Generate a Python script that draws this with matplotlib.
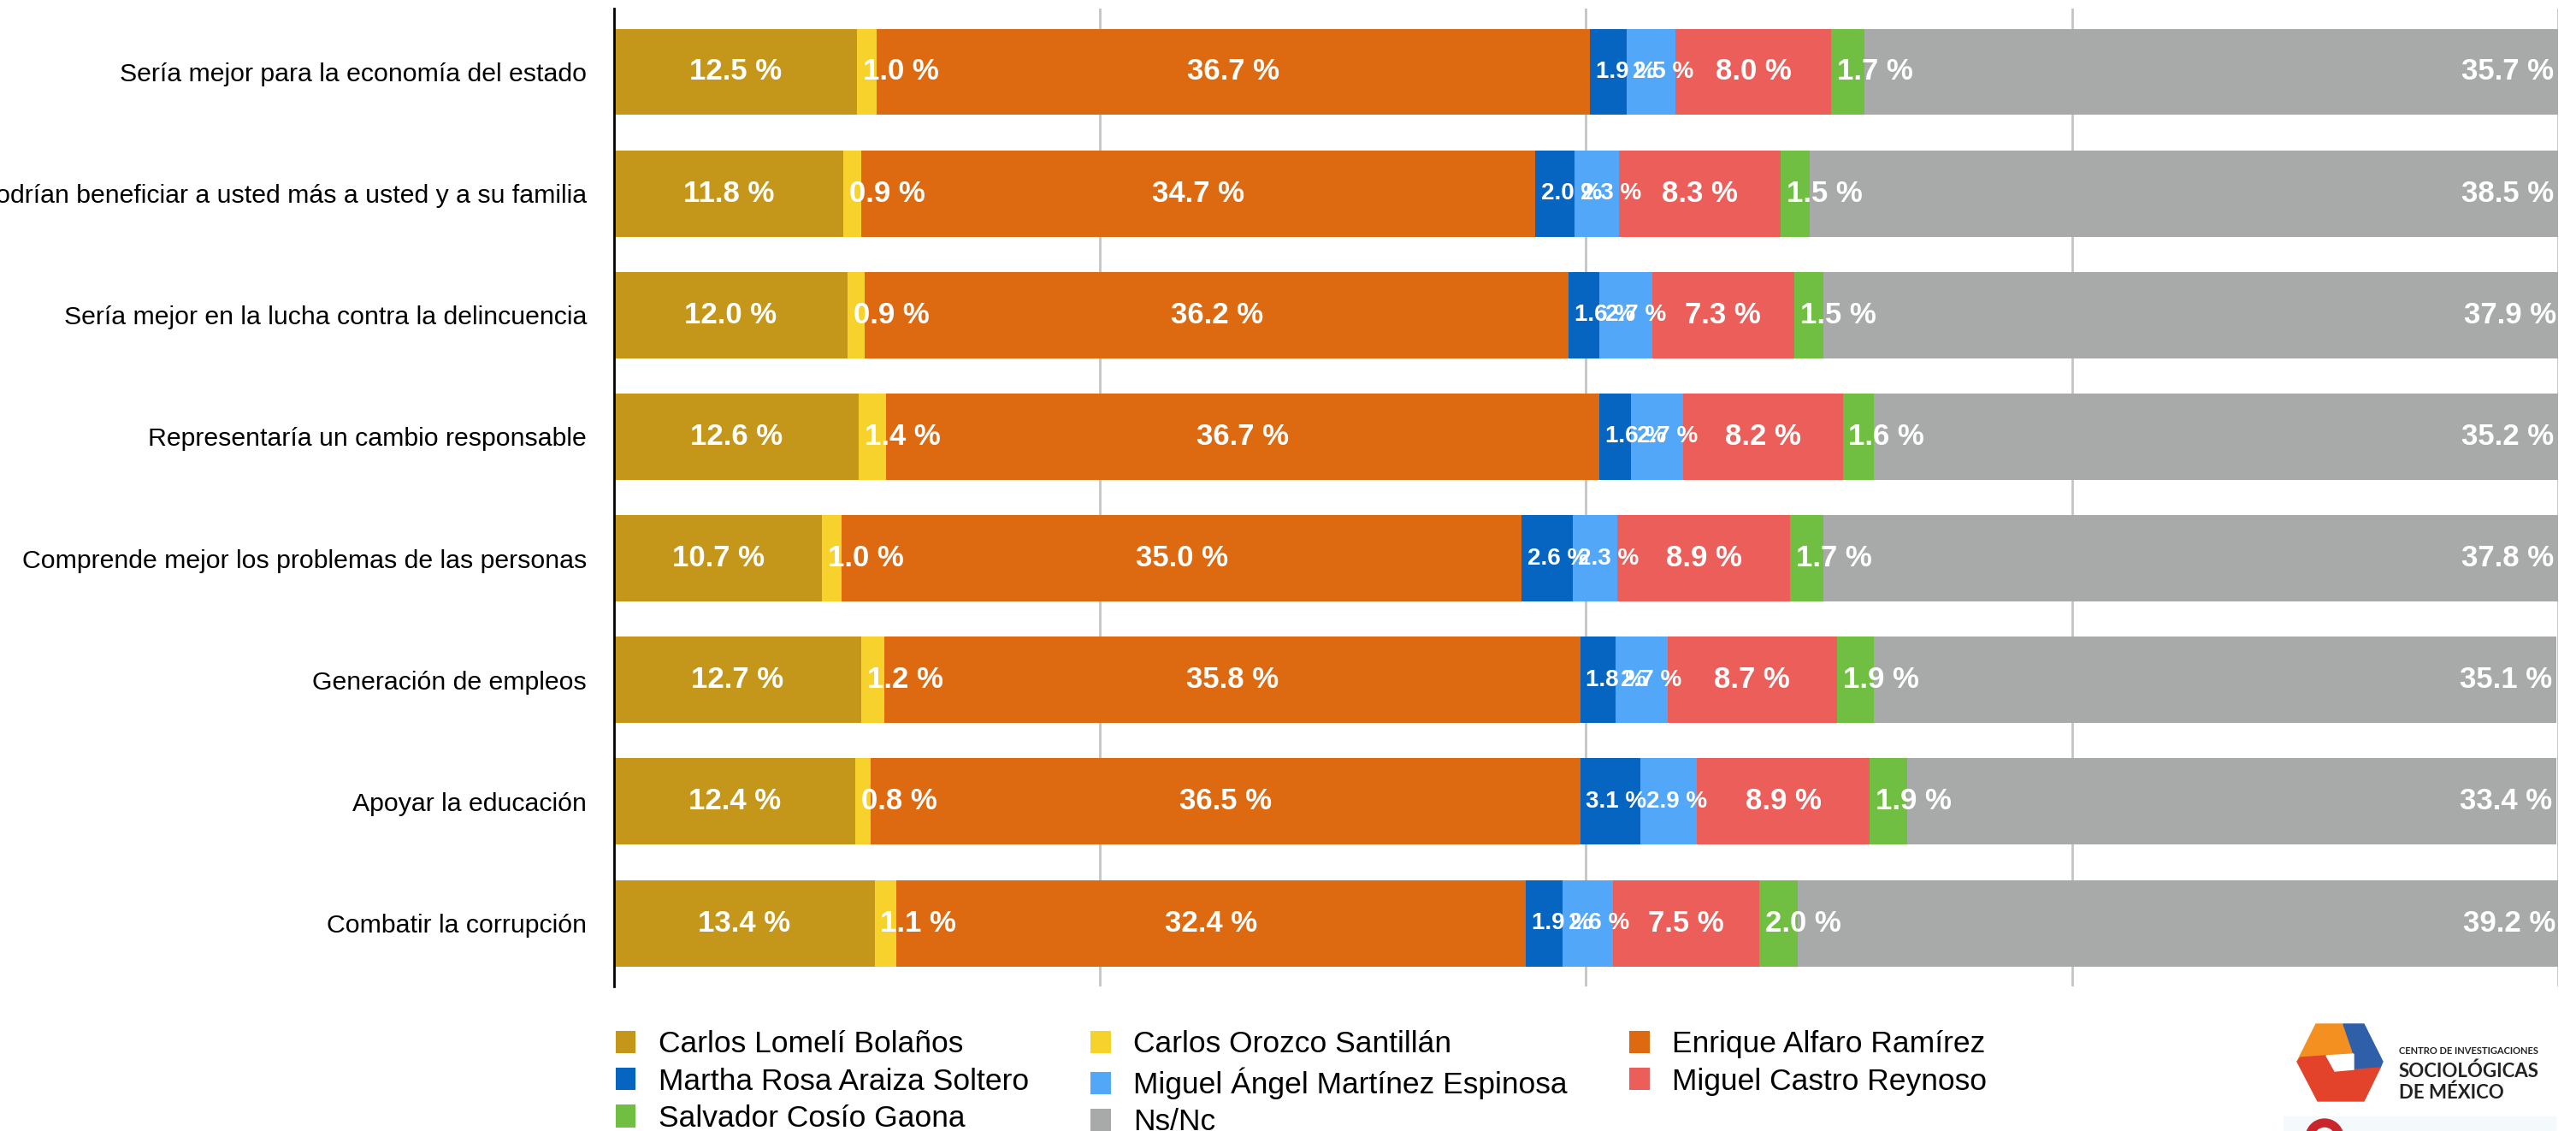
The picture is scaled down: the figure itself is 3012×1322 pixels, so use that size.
import numpy as np
import matplotlib
matplotlib.use("Agg")
import matplotlib.pyplot as plt
from matplotlib.patches import Patch, Polygon, Rectangle, Wedge

categories = [
    "Sería mejor para la economía del estado",
    "Podrían beneficiar a usted más a usted y a su familia",
    "Sería mejor en la lucha contra la delincuencia",
    "Representaría un cambio responsable",
    "Comprende mejor los problemas de las personas",
    "Generación de empleos",
    "Apoyar la educación",
    "Combatir la corrupción",
]
candidates = [
    "Carlos Lomelí Bolaños",
    "Carlos Orozco Santillán",
    "Enrique Alfaro Ramírez",
    "Martha Rosa Araiza Soltero",
    "Miguel Ángel Martínez Espinosa",
    "Miguel Castro Reynoso",
    "Salvador Cosío Gaona",
    "Ns/Nc",
]
lomeli = [12.5, 11.8, 12.0, 12.6, 10.7, 12.7, 12.4, 13.4]
orozco = [1.0, 0.9, 0.9, 1.4, 1.0, 1.2, 0.8, 1.1]
alfaro = [36.7, 34.7, 36.2, 36.7, 35.0, 35.8, 36.5, 32.4]
araiza = [1.9, 2.0, 1.6, 1.6, 2.6, 1.8, 3.1, 1.9]
martinez = [2.5, 2.3, 2.7, 2.7, 2.3, 2.7, 2.9, 2.6]
castro = [8.0, 8.3, 7.3, 8.2, 8.9, 8.7, 8.9, 7.5]
cosio = [1.7, 1.5, 1.5, 1.6, 1.7, 1.9, 1.9, 2.0]
nsnc = [35.7, 38.5, 37.9, 35.2, 37.8, 35.1, 33.4, 39.2]

series = [lomeli, orozco, alfaro, araiza, martinez, castro, cosio, nsnc]
colors = ["#C4961A", "#F7D22C", "#DD6A10", "#0565C0",
          "#52A7F9", "#EC5E59", "#70BF42", "#A7AAA9"]
# where each series puts its value label inside the segment
label_pos = ["center", "left", "center", "left", "left", "center", "left", "right"]
label_size = [25, 25, 25, 20, 20, 25, 25, 25]

plt.rcParams['font.family'] = ['Liberation Sans', 'DejaVu Sans']

fig = plt.figure(figsize=(30.12, 13.22), dpi=100)
ax = fig.add_axes([0.2384, 0.1278, 0.7546, 0.8646])

y = np.arange(len(categories))
left = np.zeros(len(categories))
for vals, col, pos, fs in zip(series, colors, label_pos, label_size):
    vals = np.array(vals)
    ax.barh(y, vals, left=left, height=0.71, color=col, zorder=2)
    for yi, l, v in zip(y, left, vals):
        txt = f"{v:.1f} %"
        if pos == "center":
            ax.text(l + v / 2, yi, txt, ha="center", va="center", color="white",
                    fontsize=fs, fontweight="bold", zorder=3)
        elif pos == "left":
            ax.text(l + 0.3, yi, txt, ha="left", va="center", color="white",
                    fontsize=fs, fontweight="bold", zorder=3)
        else:
            ax.text(l + v - 0.2, yi, txt, ha="right", va="center", color="white",
                    fontsize=fs, fontweight="bold", zorder=3)
    left = left + vals

ax.set_xlim(0, 100)
ax.set_ylim(len(categories) - 0.48, -0.52)
ax.set_yticks(y)
ax.set_yticklabels(categories, fontsize=21.8)
ax.set_xticks([25, 50, 75, 100])
ax.set_xticklabels([])
ax.tick_params(axis="both", length=0, pad=23)
ax.grid(axis="x", color="#C4C4C4", linewidth=2, zorder=0)
for s in ["top", "right", "bottom"]:
    ax.spines[s].set_visible(False)
ax.spines["left"].set_linewidth(2)
ax.spines["left"].set_zorder(4)

# legend filled row by row
handles = [Patch(facecolor=c, edgecolor="none") for c in colors]
order = [0, 3, 6, 1, 4, 7, 2, 5]
fig.legend([handles[i] for i in order], [candidates[i] for i in order],
           ncol=3, loc="upper left", bbox_to_anchor=(0.2389, 0.089),
           frameon=False, fontsize=25.5, handlelength=0.66, handleheight=0.77,
           handletextpad=0.75, columnspacing=2.05, labelspacing=0.29,
           borderpad=0, borderaxespad=0)

# logo, drawn in pixel coordinates of the figure
lg = fig.add_axes([0, 0, 1, 1], zorder=-1)
lg.set_xlim(0, 3012)
lg.set_ylim(1322, 0)
lg.axis("off")
lg.add_patch(Polygon([(2708, 1197), (2740, 1197), (2752, 1232), (2690, 1236), (2686, 1241)],
                     closed=True, color="#F39020"))
lg.add_patch(Polygon([(2740, 1197), (2764, 1197), (2786, 1241), (2783, 1248), (2752, 1250), (2752, 1232)],
                     closed=True, color="#2E5FA8"))
lg.add_patch(Polygon([(2686, 1241), (2690, 1236), (2720, 1234), (2730, 1252), (2783, 1248),
                      (2764, 1287), (2710, 1287)],
                     closed=True, color="#E2432A"))
lg.add_patch(Polygon([(2720, 1234), (2752, 1232), (2752, 1250), (2730, 1252)],
                     closed=True, color="white"))
lg.text(2805, 1232, "CENTRO DE INVESTIGACIONES", fontsize=8, fontweight="bold",
        family=["Lato", "DejaVu Sans"], va="baseline", ha="left", color="#222222")
lg.text(2805, 1259, "SOCIOLÓGICAS", fontsize=16, fontweight="bold",
        family=["Lato", "DejaVu Sans"], va="baseline", ha="left", color="#222222")
lg.text(2805, 1284, "DE MÉXICO", fontsize=16, fontweight="bold",
        family=["Lato", "DejaVu Sans"], va="baseline", ha="left", color="#222222")
lg.add_patch(Rectangle((2670, 1305), 318, 20, color="#F4FAFC"))
lg.add_patch(Wedge((2718, 1330), 22, 200, 340, width=9, color="#C8252C"))

fig.savefig("out.png", dpi=100)
